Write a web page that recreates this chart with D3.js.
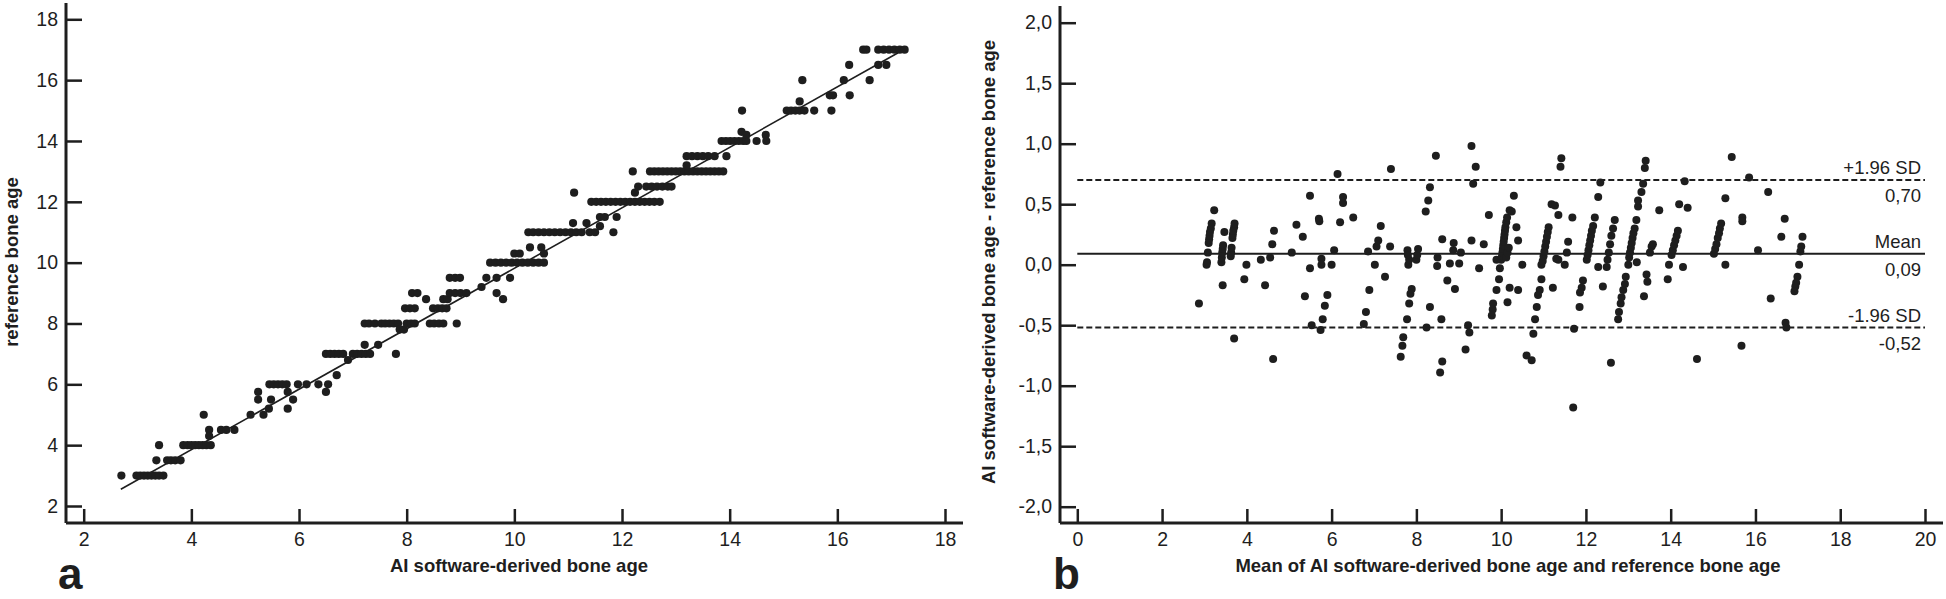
<!DOCTYPE html>
<html><head><meta charset="utf-8">
<script src="https://cdn.jsdelivr.net/npm/d3@7"></script>
<style>html,body{margin:0;padding:0;background:#fff;} svg{display:block;font-family:"Liberation Sans",Arial,sans-serif;}</style>
</head><body><svg id="chart" width="1946" height="599"></svg>
<script>
// ---------- DATA ----------
const ticksA = [2, 4, 6, 8, 10, 12, 14, 16, 18];
const ticksBX = [0, 2, 4, 6, 8, 10, 12, 14, 16, 18, 20];
const ticksBY = [-2, -1.5, -1, -0.5, 0, 0.5, 1, 1.5, 2];
const titleAX = "AI software-derived bone age";
const titleAY = "reference bone age";
const titleBX = "Mean of AI software-derived bone age and reference bone age";
const titleBY = "AI software-derived bone age - reference bone age";
const fitLine = { intercept: -0.125, slope: 0.994, from: 2.69, to: 17.13 };
const baLines = [
  { name: "+1.96 SD", value: 0.70, label: "0,70", dashed: true },
  { name: "Mean", value: 0.09, label: "0,09", dashed: false },
  { name: "-1.96 SD", value: -0.52, label: "-0,52", dashed: true }
];
// [AI software-derived bone age, reference bone age]
const aiVsRef = [
[2.70,3.0],[2.98,3.0],[3.05,3.0],[3.12,3.0],[3.19,3.0],[3.26,3.0],[3.33,3.0],[3.40,3.0],[3.48,3.0],
[3.40,4.0],[3.35,3.5],[3.55,3.5],[3.62,3.5],[3.70,3.5],[3.80,3.5],
[3.85,4.0],[3.93,4.0],[4.00,4.0],[4.07,4.0],[4.14,4.0],[4.21,4.0],[4.28,4.0],[4.36,4.0],
[4.23,5.0],[4.33,4.5],[4.33,4.3],[4.55,4.5],[4.65,4.5],[4.80,4.5],
[5.10,5.0],[5.34,5.0],[5.44,5.2],[5.24,5.5],[5.24,5.75],[5.48,5.5],
[5.45,6.0],[5.53,6.0],[5.61,6.0],[5.69,6.0],[5.77,6.0],
[5.79,5.75],[5.79,5.2],[5.89,5.5],[5.98,6.0],[6.14,6.0],[6.36,6.0],[6.54,6.0],
[6.50,5.75],[6.70,6.3],[6.50,7.0],[6.58,7.0],[6.66,7.0],[6.74,7.0],[6.82,7.0],[6.91,6.8],
[7.00,7.0],[7.08,7.0],[7.16,7.0],[7.24,7.0],[7.32,7.0],[7.22,7.3],[7.47,7.3],[7.80,7.0],
[7.22,8.0],[7.30,8.0],[7.41,8.0],[7.53,8.0],[7.60,8.0],[7.68,8.0],[7.76,8.0],[7.84,8.0],
[7.87,7.8],[7.95,7.8],[8.00,8.0],[8.08,8.0],[8.15,8.0],
[7.97,8.5],[8.06,8.5],[8.15,8.5],[8.10,9.0],[8.20,9.0],[8.36,8.8],
[8.43,8.0],[8.51,8.0],[8.60,8.0],[8.68,8.0],[8.49,8.5],[8.58,8.5],[8.66,8.5],[8.74,8.5],
[8.93,8.0],[8.68,8.8],[8.76,8.8],[8.80,9.0],[8.90,9.0],[9.00,9.0],[9.11,9.0],
[8.80,9.5],[8.90,9.5],[8.99,9.5],[9.39,9.2],[9.48,9.5],[9.67,9.5],[9.67,9.0],[9.79,8.8],[9.92,9.5],
[9.55,10.0],[9.65,10.0],[9.75,10.0],[9.85,10.0],[9.95,10.0],[10.05,10.0],[10.15,10.0],[10.25,10.0],[10.35,10.0],[10.45,10.0],[10.55,10.0],
[10.00,10.3],[10.10,10.3],[10.29,10.5],[10.50,10.5],[10.55,10.3],
[10.26,11.0],[10.35,11.0],[10.45,11.0],[10.55,11.0],[10.65,11.0],[10.75,11.0],[10.85,11.0],[10.95,11.0],[11.05,11.0],[11.15,11.0],[11.25,11.0],[11.40,11.0],
[11.11,12.3],[11.09,11.3],[11.34,11.3],[11.59,11.5],[11.68,11.5],[11.90,11.5],[11.50,11.0],[11.84,11.0],[11.59,11.2],
[11.43,12.0],[11.52,12.0],[11.61,12.0],[11.70,12.0],[11.79,12.0],[11.88,12.0],[11.97,12.0],[12.06,12.0],[12.15,12.0],[12.24,12.0],[12.33,12.0],[12.42,12.0],[12.51,12.0],[12.60,12.0],[12.70,12.0],
[12.24,12.3],[12.30,12.5],[12.45,12.5],[12.55,12.5],[12.65,12.5],[12.75,12.5],[12.85,12.5],[12.92,12.5],
[12.20,13.0],[12.52,13.0],[12.60,13.0],[12.68,13.0],[12.76,13.0],[12.84,13.0],[12.92,13.0],[13.00,13.0],[13.08,13.0],[13.16,13.0],[13.24,13.0],[13.32,13.0],[13.40,13.0],[13.48,13.0],[13.56,13.0],[13.64,13.0],[13.72,13.0],[13.80,13.0],[13.88,13.0],
[13.20,13.2],[13.20,13.5],[13.30,13.5],[13.40,13.5],[13.50,13.5],[13.60,13.5],[13.72,13.5],[13.94,13.5],
[13.85,14.0],[13.93,14.0],[14.01,14.0],[14.09,14.0],[14.17,14.0],[14.25,14.0],[14.31,14.0],
[14.22,14.3],[14.31,14.2],[14.50,14.0],[14.67,14.2],[14.68,14.0],[14.23,15.0],
[15.06,15.0],[15.14,15.0],[15.22,15.0],[15.30,15.0],[15.39,15.0],
[15.30,15.3],[15.57,15.0],[15.89,15.0],[15.35,16.0],[15.86,15.5],[15.92,15.5],[16.23,15.5],[16.12,16.0],[16.60,16.0],[16.22,16.5],
[16.76,16.5],[16.91,16.5],[16.48,17.0],[16.54,17.0],
[16.76,17.0],[16.86,17.0],[16.96,17.0],[17.06,17.0],[17.16,17.0],[17.25,17.0]
];
// [mean of both, AI - reference]
const blandAltman = [
[2.87,-0.32],
[3.05,0.00],[3.06,0.02],[3.08,0.10],[3.10,0.18],[3.11,0.21],[3.12,0.24],[3.13,0.27],[3.15,0.30],[3.17,0.34],[3.23,0.45],
[3.43,-0.17],[3.40,0.02],[3.41,0.06],[3.42,0.10],[3.43,0.13],[3.44,0.16],[3.47,0.27],
[3.70,-0.61],[3.94,-0.12],[3.99,0.00],
[3.62,0.07],[3.63,0.10],[3.64,0.14],[3.66,0.22],[3.67,0.25],[3.68,0.28],[3.70,0.31],[3.71,0.34],
[4.33,0.04],[4.43,-0.17],[4.55,0.06],[4.60,0.17],[4.64,0.28],[4.62,-0.78],
[5.06,0.10],[5.17,0.33],[5.32,0.23],[5.37,-0.26],[5.49,0.57],[5.49,-0.03],[5.53,-0.50],
[5.70,0.38],[5.71,0.36],[5.76,0.05],[5.76,0.00],[5.74,-0.54],[5.79,-0.45],[5.84,-0.34],[5.90,-0.25],
[6.00,0.00],[6.06,0.12],[6.14,0.75],[6.20,0.35],[6.27,0.56],[6.27,0.51],[6.51,0.39],
[6.76,-0.49],[6.81,-0.39],[6.89,-0.21],
[6.86,0.11],[7.02,0.00],[7.06,0.15],[7.10,0.20],[7.16,0.32],[7.26,-0.10],[7.38,0.15],[7.40,0.79],
[7.79,0.12],[7.81,0.00],[7.83,0.04],[7.80,0.08],[8.00,0.04],[8.02,0.08],[8.04,0.13],
[7.89,-0.20],[7.86,-0.24],[7.83,-0.32],[7.78,-0.45],[7.69,-0.60],[7.67,-0.67],[7.63,-0.76],
[8.22,0.44],[8.28,0.53],[8.32,0.64],[8.46,0.90],
[8.32,-0.35],[8.24,-0.52],[8.61,-0.80],[8.56,-0.89],[8.59,-0.45],
[8.50,0.06],[8.49,-0.01],[8.61,0.21],[8.73,-0.13],[8.79,0.01],[8.88,0.18],[8.87,0.12],[8.91,-0.20],[9.05,0.10],[9.01,0.01],
[9.30,0.98],[9.40,0.81],[9.34,0.67],[9.30,0.20],[9.48,-0.03],[9.59,0.17],[9.71,0.41],
[9.22,-0.50],[9.25,-0.56],[9.16,-0.70],
[9.97,-0.03],[9.95,-0.12],[9.89,-0.21],[9.81,-0.32],[9.80,-0.37],[9.78,-0.42],[9.89,0.04],
[10.00,0.04],[10.02,0.07],[10.03,0.10],[10.04,0.13],[10.05,0.16],[10.06,0.19],[10.07,0.22],[10.08,0.25],[10.09,0.28],[10.10,0.31],[10.12,0.35],[10.14,0.39],
[10.12,0.06],[10.15,0.10],[10.18,0.14],
[10.20,0.45],[10.25,0.44],[10.30,0.57],[10.36,0.31],[10.40,0.20],[10.50,0.00],
[10.20,-0.19],[10.40,-0.21],[10.15,-0.31],
[10.95,0.00],[10.98,0.03],[11.00,0.07],[11.02,0.11],[11.04,0.15],[11.06,0.19],[11.08,0.23],[11.10,0.27],[11.12,0.31],[11.19,0.50],[11.27,0.49],
[11.35,0.41],[11.35,0.04],[11.22,-0.19],
[10.95,-0.12],[10.91,-0.21],[10.87,-0.25],[10.84,-0.35],[10.80,-0.45],[10.76,-0.57],[10.60,-0.75],[10.72,-0.79],
[11.42,0.88],[11.40,0.81],
[11.58,0.19],[11.55,0.10],[11.50,0.00],[11.30,0.05],[11.68,0.39],
[11.93,-0.13],[11.90,-0.19],[11.86,-0.23],[11.85,-0.35],[11.72,-0.53],[11.70,-1.18],
[12.02,0.04],[12.04,0.08],[12.06,0.12],[12.08,0.16],[12.10,0.20],[12.12,0.24],[12.14,0.28],[12.17,0.32],[12.21,0.39],
[12.29,0.56],[12.34,0.68],[12.29,-0.02],[12.40,-0.18],
[12.49,-0.02],[12.51,0.04],[12.54,0.10],[12.57,0.17],[12.60,0.24],[12.64,0.30],[12.68,0.37],
[12.59,-0.81],
[13.00,0.00],[13.02,0.06],[13.04,0.10],[13.06,0.14],[13.08,0.18],[13.10,0.22],[13.12,0.26],[13.15,0.30],[13.19,0.37],[13.20,0.02],[13.23,0.48],[13.23,0.53],[13.31,0.60],[13.35,0.67],[13.39,0.80],[13.41,0.86],
[12.94,-0.10],[12.92,-0.16],[12.88,-0.21],[12.84,-0.27],[12.82,-0.32],[12.78,-0.39],[12.76,-0.45],[13.37,-0.26],
[13.43,-0.08],[13.45,-0.14],[13.51,0.10],[13.55,0.15],[13.58,0.17],[13.73,0.45],
[13.96,0.00],[14.29,-0.02],[13.93,-0.12],
[14.02,0.08],[14.05,0.12],[14.08,0.16],[14.11,0.20],[14.14,0.24],[14.17,0.28],
[14.20,0.50],[14.40,0.47],[14.33,0.69],[14.62,-0.78],
[15.02,0.09],[15.05,0.13],[15.08,0.17],[15.11,0.22],[15.14,0.26],[15.16,0.30],[15.19,0.34],
[15.29,0.00],[15.29,0.55],[15.44,0.89],[15.69,0.39],[15.69,0.36],[15.67,-0.67],[15.85,0.72],
[16.06,0.12],[16.30,0.60],[16.36,-0.28],[16.69,0.38],[16.61,0.23],[16.71,-0.48],[16.73,-0.52],
[17.11,0.23],[17.08,0.15],[17.06,0.11],[17.03,0.00],[16.99,-0.10],[16.96,-0.15],[16.94,-0.18],[16.92,-0.22]
];

// ---------- DRAW ----------
const ink = "#1e1e1e";
const svg = d3.select("#chart");
const comma = d3.formatLocale({decimal: ",", thousands: ".", grouping: [3], currency: ["", ""], minus: "-"});
const fmtB = comma.format(".1f");
const titleSize = "18.5px";

function drawAxes(g, x, y, o) {
  g.append("line").attr("x1", o.ax).attr("x2", o.ax).attr("y1", o.yTop).attr("y2", o.ay)
    .attr("stroke", ink).attr("stroke-width", 3);
  g.append("line").attr("x1", o.ax).attr("x2", o.xRight).attr("y1", o.ay).attr("y2", o.ay)
    .attr("stroke", ink).attr("stroke-width", 3);
  const ya = g.append("g").attr("transform", `translate(${o.ax},0)`)
    .call(d3.axisLeft(y).tickValues(o.yTicks).tickSize(-16).tickPadding(8).tickFormat(o.yFmt));
  const xa = g.append("g").attr("transform", `translate(0,${o.ay})`)
    .call(d3.axisBottom(x).tickValues(o.xTicks).tickSize(-14).tickPadding(9).tickFormat(d3.format("d")));
  [ya, xa].forEach(a => {
    a.select(".domain").remove();
    a.selectAll(".tick line").attr("stroke", ink).attr("stroke-width", 2.5);
    a.selectAll(".tick text").attr("fill", ink).style("font-size", "19.5px")
      .style("font-family", '"Liberation Sans", Arial, sans-serif');
  });
}

// Panel a
const xA = d3.scaleLinear().domain([2, 18]).range([83.7, 945]);
const yA = d3.scaleLinear().domain([2, 18]).range([506, 19.3]);
const gA = svg.append("g");
drawAxes(gA, xA, yA, {ax: 66, ay: 523, yTop: 3, xRight: 963, yTicks: ticksA, xTicks: ticksA, yFmt: d3.format("d")});
gA.append("line")
  .attr("x1", xA(fitLine.from)).attr("y1", yA(fitLine.intercept + fitLine.slope * fitLine.from))
  .attr("x2", xA(fitLine.to)).attr("y2", yA(fitLine.intercept + fitLine.slope * fitLine.to))
  .attr("stroke", ink).attr("stroke-width", 1.6);
gA.append("g").selectAll("circle").data(aiVsRef).join("circle")
  .attr("cx", d => xA(d[0])).attr("cy", d => yA(d[1])).attr("r", 4.1).attr("fill", ink);
gA.append("text").attr("x", 519).attr("y", 572).attr("text-anchor", "middle")
  .style("font-size", titleSize).style("font-weight", "bold").attr("fill", ink).text(titleAX);
gA.append("text").attr("transform", "translate(18,262) rotate(-90)").attr("text-anchor", "middle")
  .style("font-size", titleSize).style("font-weight", "bold").attr("fill", ink).text(titleAY);
gA.append("text").attr("x", 58).attr("y", 589).style("font-size", "44px").style("font-weight", "bold")
  .attr("fill", ink).text("a");

// Panel b
const xB = d3.scaleLinear().domain([0, 20]).range([1077.3, 1925]);
const yB = d3.scaleLinear().domain([-2, 2]).range([506.7, 22.7]);
const gB = svg.append("g");
drawAxes(gB, xB, yB, {ax: 1060, ay: 523, yTop: 6, xRight: 1943, yTicks: ticksBY, xTicks: ticksBX, yFmt: fmtB});
baLines.forEach(l => {
  gB.append("line").attr("x1", xB(0)).attr("x2", xB(20)).attr("y1", yB(l.value)).attr("y2", yB(l.value))
    .attr("stroke", ink).attr("stroke-width", 2).attr("stroke-dasharray", l.dashed ? "6,3" : null);
});
gB.append("g").selectAll("circle").data(blandAltman).join("circle")
  .attr("cx", d => xB(d[0])).attr("cy", d => yB(d[1])).attr("r", 4).attr("fill", ink);
baLines.forEach(l => {
  gB.append("text").attr("x", 1921).attr("y", yB(l.value) - 6).attr("text-anchor", "end")
    .style("font-size", "18.5px").attr("fill", ink).text(l.name);
  gB.append("text").attr("x", 1921).attr("y", yB(l.value) + 22).attr("text-anchor", "end")
    .style("font-size", "18.5px").attr("fill", ink).text(l.label);
});
gB.append("text").attr("x", 1508).attr("y", 572).attr("text-anchor", "middle")
  .style("font-size", titleSize).style("font-weight", "bold").attr("fill", ink).text(titleBX);
gB.append("text").attr("transform", "translate(995,262) rotate(-90)").attr("text-anchor", "middle")
  .style("font-size", titleSize).style("font-weight", "bold").attr("fill", ink).text(titleBY);
gB.append("text").attr("x", 1053).attr("y", 589).style("font-size", "44px").style("font-weight", "bold")
  .attr("fill", ink).text("b");
</script></body></html>
